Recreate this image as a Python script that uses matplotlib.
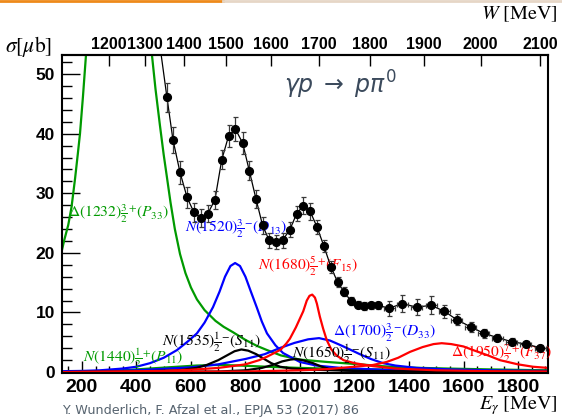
import numpy as np
import matplotlib
matplotlib.use('Agg')
import matplotlib.pyplot as plt
from matplotlib.ticker import MultipleLocator
from matplotlib.lines import Line2D

plt.rcParams['mathtext.fontset'] = 'stix'
plt.rcParams['font.family'] = ['Liberation Sans', 'DejaVu Sans']

# ---------------- data ----------------
E_data = [512, 534, 560, 586, 611, 637, 662, 688, 713, 738, 763, 790, 814, 839, 863,
          887, 912, 936, 963, 988, 1012, 1037, 1063, 1088, 1114, 1138, 1162, 1187,
          1212, 1236, 1261, 1287, 1327, 1375, 1428, 1481, 1530, 1575, 1626, 1675,
          1724, 1777, 1829, 1881]
sigma_data = [46.1, 39.0, 33.5, 29.3, 26.8, 25.8, 26.6, 28.9, 35.6, 39.6, 40.8, 38.4,
              33.8, 29.0, 24.6, 22.1, 21.8, 22.1, 23.9, 26.6, 27.9, 27.0, 24.3, 21.1,
              17.6, 15.1, 13.5, 11.9, 11.3, 11.1, 11.2, 11.2, 10.7, 11.5, 10.9, 11.2,
              10.2, 8.8, 7.6, 6.5, 5.8, 5.1, 4.7, 4.1]
sigma_err = [2.4, 2.2, 2.0, 1.8, 1.6, 1.5, 1.5, 1.5, 1.6, 1.8, 2.0, 1.8, 1.6, 1.5, 1.4,
             1.2, 1.2, 1.2, 1.2, 1.3, 1.4, 1.4, 1.2, 1.0, 1.0, 0.9, 0.8, 0.7, 0.6, 0.6,
             0.6, 0.6, 1.3, 1.5, 1.4, 1.5, 1.1, 0.9, 0.8, 0.7, 0.6, 0.6, 0.5, 0.4]
E_err = [0] * 32 + [20] * 12

fit_E = [490] + E_data + [1910]
fit_sigma = [53.5] + sigma_data + [3.9]

# resonance contributions
d1232_E = [127, 135, 150, 162, 175, 185, 193, 204, 215, 225, None,
           445, 457, 470, 486, 500, 511, 525, 541, 560, 580, 600, 622, 650, 690, 720,
           754, 800, 842, 879, 930, 1000, 1100, 1220, 1300, 1367, 1450, 1540, 1700, 1910]
d1232_s = [20.5, 22.1, 24.7, 27.7, 32.5, 36.6, 40.0, 46.3, 53.2, 60, None,
           60, 53.2, 47.5, 41.5, 36.5, 33.0, 28.5, 24.0, 19.8, 16.6, 14.2, 12.2, 10.4,
           8.6, 7.6, 6.7, 5.4, 4.4, 3.7, 2.8, 2.1, 1.7, 1.3, 1.0, 0.8, 0.7, 0.6, 0.45, 0.3]

n1440_E = [127, 250, 350, 450, 550, 620, 700, 780, 880, 1000, 1200, 1500, 1910]
n1440_s = [0.0, 0.1, 0.3, 0.6, 0.9, 1.1, 1.2, 1.1, 0.9, 0.7, 0.5, 0.3, 0.2]

n1520_E = [127, 200, 266, 350, 400, 450, 500, 549, 590, 622, 650, 681, 705, 725, 745,
           762, 780, 800, 820, 842, 860, 879, 910, 938, 1000, 1060, 1150, 1300, 1500,
           1700, 1910]
n1520_s = [0.15, 0.2, 0.3, 0.6, 0.9, 1.5, 2.4, 3.7, 5.2, 6.5, 8.3, 10.9, 13.5, 16.0,
           17.8, 18.3, 17.8, 16.0, 13.5, 10.8, 8.5, 6.5, 4.5, 3.2, 1.7, 1.1, 0.7, 0.4,
           0.25, 0.15, 0.1]

n1535_E = [127, 400, 550, 620, 658, 700, 732, 760, 785, 810, 840, 865, 895, 927, 970,
           1050, 1200, 1500, 1910]
n1535_s = [0.0, 0.1, 0.3, 0.7, 1.2, 2.0, 2.8, 3.5, 3.8, 3.6, 3.0, 2.3, 1.5, 0.9, 0.6,
           0.4, 0.2, 0.1, 0.05]

n1650_E = [127, 700, 800, 860, 900, 935, 965, 985, 1010, 1048, 1080, 1110, 1160, 1250,
           1500, 1910]
n1650_s = [0.0, 0.1, 0.3, 0.7, 1.2, 1.8, 2.1, 2.2, 2.0, 1.5, 0.9, 0.5, 0.3, 0.15,
           0.05, 0.02]

n1680_E = [127, 500, 600, 700, 800, 850, 880, 910, 930, 950, 963, 985, 1000, 1012,
           1025, 1035, 1045, 1055, 1062, 1073, 1085, 1098, 1115, 1134, 1160, 1200,
           1268, 1350, 1500, 1700, 1910]
n1680_s = [0.0, 0.2, 0.4, 0.7, 1.3, 2.0, 2.6, 3.3, 3.8, 4.8, 5.6, 7.5, 9.0, 10.2,
           12.0, 12.8, 13.0, 12.5, 11.5, 9.3, 7.3, 5.4, 3.8, 2.8, 2.0, 1.5, 1.0, 0.6,
           0.3, 0.15, 0.1]

d1700_E = [127, 400, 600, 700, 800, 870, 930, 980, 1030, 1070, 1110, 1150, 1183, 1220,
           1260, 1305, 1350, 1429, 1550, 1700, 1910]
d1700_s = [0.05, 0.3, 0.8, 1.3, 2.2, 3.0, 4.1, 4.9, 5.5, 5.7, 5.3, 4.5, 3.8, 3.0, 2.2,
           1.5, 1.1, 0.7, 0.45, 0.3, 0.2]

d1950_E = [127, 800, 1000, 1100, 1150, 1200, 1268, 1318, 1360, 1404, 1450, 1490, 1520,
           1555, 1600, 1635, 1690, 1734, 1800, 1855, 1910]
d1950_s = [0.0, 0.1, 0.3, 0.5, 0.7, 0.9, 1.2, 1.7, 2.4, 3.4, 4.2, 4.7, 4.85, 4.7, 4.3,
           3.7, 2.8, 2.0, 1.3, 0.9, 0.7]

x_ticks = [200, 400, 600, 800, 1000, 1200, 1400, 1600, 1800]
y_ticks = [0, 10, 20, 30, 40, 50]
w_ticks = [1200, 1300, 1400, 1500, 1600, 1700, 1800, 1900, 2000, 2100]

GREEN = '#009a00'
BLUE = '#0000ff'
RED = '#ff0000'

# ---------------- figure ----------------
W_FIG, H_FIG = 562, 419
fig = plt.figure(figsize=(W_FIG / 100, H_FIG / 100), dpi=100)
L, R, T, B = 62, 548, 55, 373
ax = fig.add_axes([L / W_FIG, 1 - B / H_FIG, (R - L) / W_FIG, (B - T) / H_FIG])
ax.set_xlim(127, 1910)
ax.set_ylim(-0.15, 53.2)

lw = 1.6
ax.plot([np.nan if v is None else v for v in d1232_E],
        [np.nan if v is None else v for v in d1232_s], color=GREEN, lw=lw)
ax.plot(n1440_E, n1440_s, color=GREEN, lw=lw)
ax.plot(n1520_E, n1520_s, color=BLUE, lw=lw)
ax.plot(d1700_E, d1700_s, color=BLUE, lw=lw)
ax.plot(n1535_E, n1535_s, color='black', lw=lw)
ax.plot(n1650_E, n1650_s, color='black', lw=lw)
ax.plot(n1680_E, n1680_s, color=RED, lw=lw)
ax.plot(d1950_E, d1950_s, color=RED, lw=lw)

ax.plot(fit_E, fit_sigma, color='black', lw=0.9, zorder=4)
ax.errorbar(E_data, sigma_data, yerr=sigma_err, xerr=E_err, fmt='o', color='black',
            ms=5.6, ecolor='#3a3a3a', elinewidth=0.9, capsize=1.8, capthick=0.9, zorder=5)

# labels of contributions
lab_fs = 11.2
ax.text(149, 26.6, r'$\Delta(1232)\frac{3}{2}^{+}(P_{33})$', color=GREEN, fontsize=lab_fs,
        ha='left', va='center')
ax.text(578, 24.1, r'$N(1520)\frac{3}{2}^{-}(D_{13})$', color=BLUE, fontsize=lab_fs,
        ha='left', va='center')
ax.text(846, 17.8, r'$N(1680)\frac{5}{2}^{+}(F_{15})$', color=RED, fontsize=lab_fs,
        ha='left', va='center')
ax.text(494, 5.0, r'$N(1535)\frac{1}{2}^{-}(S_{11})$', color='black', fontsize=lab_fs,
        ha='left', va='center')
ax.text(204, 2.4, r'$N(1440)\frac{1}{2}^{+}(P_{11})$', color=GREEN, fontsize=lab_fs,
        ha='left', va='center')
ax.text(1121, 6.7, r'$\Delta(1700)\frac{3}{2}^{-}(D_{33})$', color=BLUE, fontsize=lab_fs,
        ha='left', va='center')
ax.text(971, 3.0, r'$N(1650)\frac{1}{2}^{-}(S_{11})$', color='black', fontsize=lab_fs,
        ha='left', va='center')
ax.text(1554, 3.1, r'$\Delta(1950)\frac{7}{2}^{+}(F_{37})$', color=RED, fontsize=lab_fs,
        ha='left', va='center')

ax.text(941, 48.1, r'$\gamma p\;\rightarrow\;p\pi^0$', color='#3b4a5c', fontsize=17,
        ha='left', va='center', math_fontfamily='dejavusans')

# axes styling
for s in ax.spines.values():
    s.set_linewidth(1.5)
ax.set_xticks(x_ticks)
ax.set_yticks(y_ticks)
ax.xaxis.set_minor_locator(MultipleLocator(50))
ax.yaxis.set_minor_locator(MultipleLocator(2))
ax.tick_params(which='both', direction='in', top=False, right=False, width=1.0)
ax.tick_params(axis='x', which='major', length=9, labelsize=14, pad=4)
ax.tick_params(axis='x', which='minor', length=5)
ax.tick_params(axis='y', which='major', length=13, labelsize=12.5, pad=5)
ax.tick_params(axis='y', which='minor', length=7)
for lab in ax.get_xticklabels() + ax.get_yticklabels():
    lab.set_fontweight('bold')

mp = 938.272

def E2W(E):
    E = np.asarray(E, dtype=float)
    return np.sqrt(np.clip(mp ** 2 + 2 * mp * E, 0, None))

def W2E(Wv):
    Wv = np.asarray(Wv, dtype=float)
    return (Wv ** 2 - mp ** 2) / (2 * mp)

sec = ax.secondary_xaxis('top', functions=(E2W, W2E))
sec.set_xticks(w_ticks)
sec.tick_params(direction='in', length=8, width=1.0, labelsize=11.5, pad=2)
sec.spines['top'].set_linewidth(1.5)
for lab in sec.get_xticklabels():
    lab.set_fontweight('bold')

# axis titles
fig.text(5 / W_FIG, 1 - 46 / H_FIG, r'$\sigma[\mu\mathrm{b}]$', fontsize=15.5,
         ha='left', va='center')
fig.text(558 / W_FIG, 1 - 14 / H_FIG, r'$W\ [\mathrm{MeV}]$', fontsize=14.5,
         ha='right', va='center')
fig.text(558 / W_FIG, 1 - 406 / H_FIG, r'$E_{\gamma}\ [\mathrm{MeV}]$', fontsize=14.5,
         ha='right', va='center')

fig.text(62 / W_FIG, 1 - 410 / H_FIG, 'Y. Wunderlich, F. Afzal et al., EPJA 53 (2017) 86',
         fontsize=9.2, color='#56636f', ha='left', va='center',
         family=['DejaVu Sans'])

# slide header line
fig.add_artist(Line2D([0, 223 / W_FIG], [1 - 1 / H_FIG] * 2, color='#ee8a1a', lw=2.0))
fig.add_artist(Line2D([223 / W_FIG, 1], [1 - 1 / H_FIG] * 2, color='#e6d6c6', lw=2.0))

fig.savefig('out.png', dpi=100)
